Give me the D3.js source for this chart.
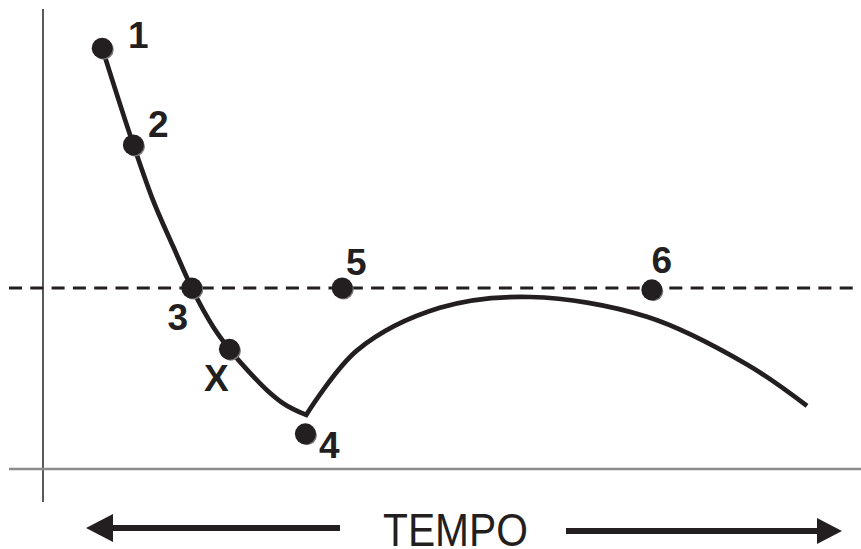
<!DOCTYPE html>
<html>
	<head>
		<meta content="text/html;charset=utf-8" http-equiv="Content-Type">
		<title>TEMPO</title>
		<script src="https://d3js.org/d3.v7.min.js"></script>
		<style>
			body { margin: 0; background: #fff; }
			svg { display: block; }
		</style>
	</head>
	<body>
		<svg width="861" height="549"></svg>
		<script>
			// labelled points (time, level)
			var pointNames = ['1', '2', '3', 'X', '4', '5', '6'],
				pointX = [7.4, 11.3, 18.6, 23.3, 32.8, 37.4, 76.1],
				pointY = [93.3, 71.8, 40, 26.4, 7.6, 40, 39.6];

			// the curve, in two pieces (falling part, then the rise after point 4)
			var fallX = [7.4, 11.3, 13.6, 16.3, 18.6, 21.3, 23.3, 25.9, 28, 30, 32.9],
				fallY = [93.3, 71.8, 60.2, 49.1, 40, 31.3, 26.4, 21.1, 17.3, 14.4, 11.8],
				riseX = [32.9, 39.3, 49.6, 60.9, 75.5, 88, 95.5],
				riseY = [11.8, 26.2, 35.6, 38, 33.6, 23, 13.8];

			var threshold = 40,
				axisLabel = 'TEMPO';

			var ink = '#231f20',
				svg = d3.select('svg'),
				x = d3.scaleLinear().domain([0, 100]).range([43, 843]),
				y = d3.scaleLinear().domain([0, 100]).range([468, 18]);

			//axes
			svg.append('line')
				.attr('x1', x(0)).attr('x2', x(0))
				.attr('y1', 9).attr('y2', 502)
				.attr('stroke', '#000')
				.attr('stroke-width', 1.3);
			svg.append('line')
				.attr('x1', 9).attr('x2', 861)
				.attr('y1', y(0) + 1).attr('y2', y(0) + 1)
				.attr('stroke', '#8c8c8c')
				.attr('stroke-width', 2.5);

			//dashed level
			svg.append('line')
				.attr('x1', 9).attr('x2', 861)
				.attr('y1', y(threshold)).attr('y2', y(threshold))
				.attr('stroke', ink)
				.attr('stroke-width', 3.2)
				.attr('stroke-dasharray', '13,8.3');

			//curve
			var fallLine = d3.line()
				.x(function(d) { return x(d[0]); })
				.y(function(d) { return y(d[1]); })
				.curve(d3.curveMonotoneX);
			var riseLine = d3.line()
				.x(function(d) { return x(d[0]); })
				.y(function(d) { return y(d[1]); })
				.curve(d3.curveCatmullRom.alpha(0.5));
			svg.append('path')
				.attr('d', fallLine(d3.zip(fallX, fallY)) + riseLine(d3.zip(riseX, riseY)).replace(/^M/, 'L'))
				.attr('fill', 'none')
				.attr('stroke', ink)
				.attr('stroke-width', 4.7)
				.attr('stroke-linejoin', 'miter');

			//points
			var pts = pointNames.map(function(n, i) { return {name: n, x: pointX[i], y: pointY[i]}; });
			svg.selectAll('circle.shadow')
				.data(pts)
				.enter()
				.append('circle')
				.attr('class', 'shadow')
				.attr('cx', function(d) { return x(d.x) + 1.5; })
				.attr('cy', function(d) { return y(d.y) + 1.5; })
				.attr('r', 10)
				.attr('fill', '#777');
			svg.selectAll('circle.dot')
				.data(pts)
				.enter()
				.append('circle')
				.attr('class', 'dot')
				.attr('cx', function(d) { return x(d.x); })
				.attr('cy', function(d) { return y(d.y); })
				.attr('r', 10.5)
				.attr('fill', ink);

			// label offsets from each dot, in pixels
			var offs = {'1': [36, 0], '2': [25, -8], '3': [-14, 42], 'X': [-13, 42],
				'4': [24, 24], '5': [14, -13], '6': [10, -17]};
			svg.selectAll('text.lbl')
				.data(pts)
				.enter()
				.append('text')
				.attr('class', 'lbl')
				.attr('x', function(d) { return x(d.x) + offs[d.name][0]; })
				.attr('y', function(d) { return y(d.y) + offs[d.name][1]; })
				.attr('text-anchor', 'middle')
				.attr('font-family', 'Arial, "Liberation Sans", sans-serif')
				.attr('font-weight', 'bold')
				.attr('font-size', 37)
				.attr('fill', ink)
				.text(function(d) { return d.name; });

			//time arrows
			svg.append('line')
				.attr('x1', 110).attr('x2', 340)
				.attr('y1', 528).attr('y2', 528)
				.attr('stroke', ink).attr('stroke-width', 6);
			svg.append('path')
				.attr('d', 'M86,528 L113,514 L113,542 Z')
				.attr('fill', ink);
			svg.append('line')
				.attr('x1', 566).attr('x2', 820)
				.attr('y1', 531).attr('y2', 531)
				.attr('stroke', ink).attr('stroke-width', 6);
			svg.append('path')
				.attr('d', 'M842,531 L817,518 L817,544 Z')
				.attr('fill', ink);

			svg.append('text')
				.attr('x', 383)
				.attr('y', 546)
				.attr('font-family', 'Arial, "Liberation Sans", sans-serif')
				.attr('font-size', 47)
				.attr('textLength', 145)
				.attr('lengthAdjust', 'spacingAndGlyphs')
				.attr('fill', ink)
				.text(axisLabel);
		</script>
	</body>
</html>
